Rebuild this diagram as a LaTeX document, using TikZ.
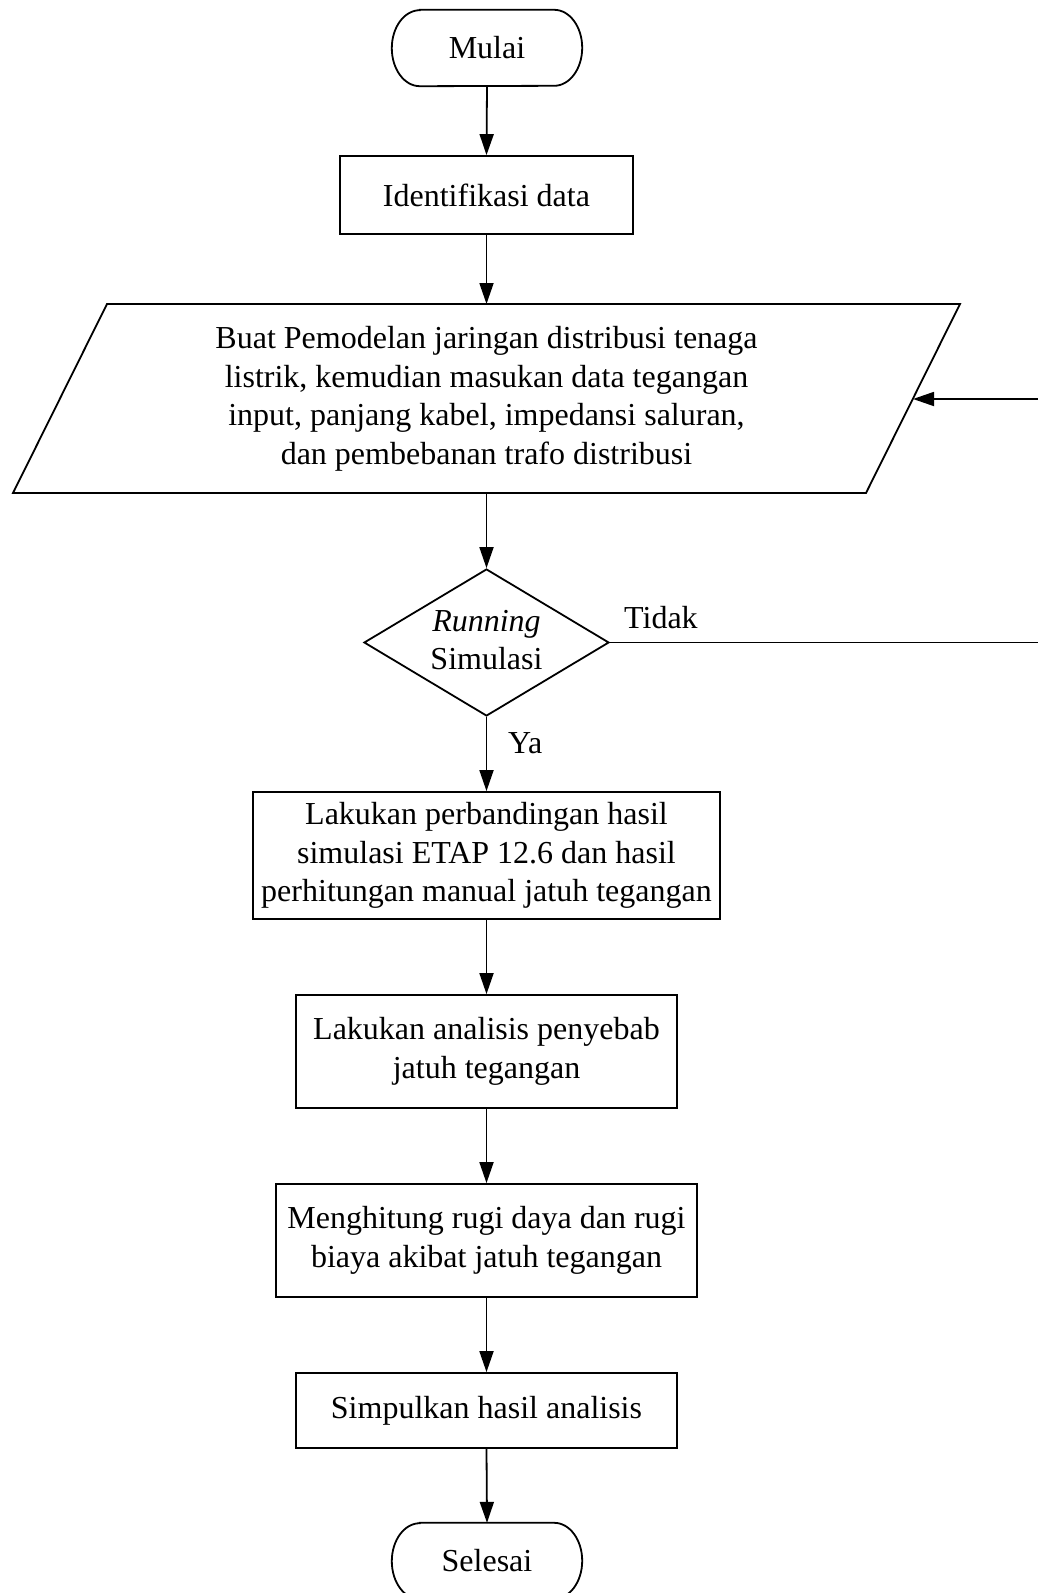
\documentclass[tikz,border=0pt]{standalone}
\usepackage{fontspec}
\setmainfont{Liberation Serif}
\usetikzlibrary{arrows.meta,shapes.geometric}
\begin{document}
\begin{tikzpicture}[x=1pt,y=-1pt,
  every node/.style={font=\fontsize{32}{38.5}\selectfont},
  ln/.style={line width=1.8pt},
  arr/.style={ln,-{Triangle[length=21pt,width=14pt]}},
  procbox/.style={draw,ln,inner sep=0pt,align=center},
  termbox/.style={inner sep=0pt,minimum width=190pt,minimum height=76pt}
]
\useasboundingbox (0,0) rectangle (1037,1593);
\fill[white] (0,0) rectangle (1037,1593);

% terminators
\node[termbox] (mulai) at (487,48) {Mulai};
\draw[ln] ([xshift=28pt]mulai.north west) -- ([xshift=-28pt]mulai.north east)
  arc[start angle=90,end angle=-90,x radius=28pt,y radius=38pt]
  -- ([xshift=28pt]mulai.south west)
  arc[start angle=270,end angle=90,x radius=28pt,y radius=38pt] -- cycle;

\node[termbox] (selesai) at (487,1561) {Selesai};
\draw[ln] ([xshift=28pt]selesai.north west) -- ([xshift=-28pt]selesai.north east)
  arc[start angle=90,end angle=-90,x radius=28pt,y radius=38pt]
  -- ([xshift=28pt]selesai.south west)
  arc[start angle=270,end angle=90,x radius=28pt,y radius=38pt] -- cycle;

% process boxes
\node[procbox,minimum width=293pt,minimum height=78pt] (ident) at (486.5,195) {Identifikasi data};

% parallelogram
\coordinate (ptl) at (107,304);
\coordinate (ptr) at (960,304);
\coordinate (pbr) at (866,493);
\coordinate (pbl) at (13,493);
\coordinate (ptop) at (486.5,304);
\coordinate (pbot) at (486.5,493);
\coordinate (pright) at (913,399);
\draw[ln,line join=miter] (ptl) -- (ptr) -- (pbr) -- (pbl) -- cycle;
\node[align=center,inner sep=0pt] (model) at (486.5,399)
  {Buat Pemodelan jaringan distribusi tenaga\\
   listrik, kemudian masukan data tegangan\\
   input, panjang kabel, impedansi saluran,\\
   dan pembebanan trafo distribusi};

% decision
\node[diamond,draw,ln,minimum width=245pt,minimum height=147pt,inner sep=0pt] (dec) at (486.5,642.5) {};
\node[align=center,inner sep=0pt] (dectext) at (486.5,640) {\textit{Running}\\Simulasi};

\node[procbox,minimum width=467pt,minimum height=127pt] (b1) at (486.5,855.5)
  {Lakukan perbandingan hasil\\simulasi ETAP 12.6 dan hasil\\perhitungan manual jatuh tegangan};
\node[procbox,minimum width=381pt,minimum height=113pt] (b2) at (486.5,1051.5)
  {Lakukan analisis penyebab\\jatuh tegangan};
\node[procbox,minimum width=421pt,minimum height=113pt] (b3) at (486.5,1240.5)
  {Menghitung rugi daya dan rugi\\biaya akibat jatuh tegangan};
\node[procbox,minimum width=381pt,minimum height=75pt] (b4) at (486.5,1410.5)
  {Simpulkan hasil analisis};

% connectors
\draw[arr] (mulai.south) -- (ident.north);
\draw[arr] (ident.south) -- (ptop);
\draw[arr] (pbot) -- (dec.north);
\draw[arr] (dec.south) -- (b1.north);
\draw[arr] (b1.south) -- (b2.north);
\draw[arr] (b2.south) -- (b3.north);
\draw[arr] (b3.south) -- (b4.north);
\draw[arr] (b4.south) -- (selesai.north);

\coordinate (loopA) at (1048,642.5);
\coordinate (loopB) at (1048,399);
\draw[arr] (dec.east) -- (loopA) -- (loopB) -- (pright);

% labels
\node[anchor=base west,inner sep=0pt] (tidak) at (624,628) {Tidak};
\node[anchor=base west,inner sep=0pt] (ya) at (508,753) {Ya};
\end{tikzpicture}
\end{document}
